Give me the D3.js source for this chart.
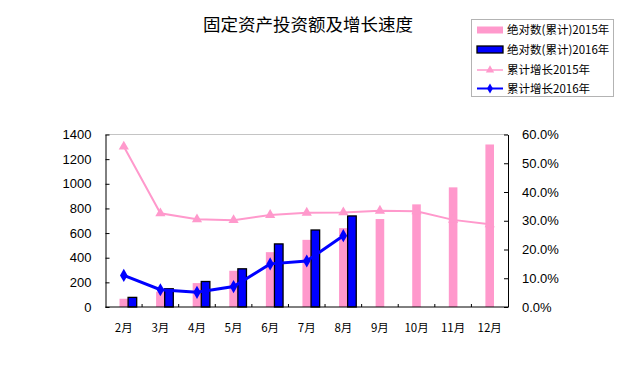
<!DOCTYPE html>
<html>
<head>
<meta charset="utf-8">
<script src="https://cdn.jsdelivr.net/npm/d3@7/dist/d3.min.js"></script>
<style>
  body { margin: 0; background: #fff; }
  svg { display: block; }
  text { font-family: "Liberation Sans", Arial, sans-serif; }
  .cjk { font-family: "Noto Sans CJK SC", sans-serif; }
</style>
</head>
<body>
<div id="chart"></div>
<script>
  var months = ['2月', '3月', '4月', '5月', '6月', '7月', '8月', '9月', '10月', '11月', '12月'];
  var abs2015 = [67, 124, 194, 294, 445, 545, 640, 714, 833, 971, 1319];
  var abs2016 = [78, 148, 207, 310, 512, 625, 739];
  var growth2015 = [55.8, 32.6, 30.5, 30.2, 32.0, 32.8, 32.9, 33.5, 33.3, 30.3, 28.8];
  var growth2016 = [11.0, 6.0, 5.1, 7.1, 15.0, 16.0, 24.8];
  var leftTicks = [0, 200, 400, 600, 800, 1000, 1200, 1400];
  var rightTicks = [0, 10, 20, 30, 40, 50, 60];
  var legendLabels = ['绝对数(累计)2015年', '绝对数(累计)2016年', '累计增长2015年', '累计增长2016年'];

  (function () {
    var width = 629, height = 382;
    var pink = '#ff99cc', blue = '#0000ff';

    var svg = d3.select('#chart').append('svg')
      .attr('width', width)
      .attr('height', height);

    var plotLeft = 105.5, plotRight = 508, plotTop = 134.5, plotBottom = 307;

    var x = d3.scaleBand().domain(months).range([plotLeft, plotRight]).paddingInner(0).paddingOuter(0);
    var yL = d3.scaleLinear().domain([0, 1400]).range([plotBottom, plotTop]);
    var yR = d3.scaleLinear().domain([0, 60]).range([plotBottom, plotTop]);
    var bw = x.bandwidth() * 0.235;

    function cx(m) { return x(m) + x.bandwidth() / 2; }

    // title
    svg.append('text')
      .attr('class', 'cjk')
      .attr('x', 308)
      .attr('y', 31)
      .attr('text-anchor', 'middle')
      .style('font-size', '17.5px')
      .style('fill', '#000')
      .text('固定资产投资额及增长速度');

    // top border of plot area, dotted
    svg.append('line')
      .attr('x1', plotLeft).attr('x2', plotRight).attr('y1', plotTop).attr('y2', plotTop)
      .attr('stroke', '#888').attr('stroke-dasharray', '1,1');

    // bars 2015
    svg.selectAll('.bar15')
      .data(abs2015)
      .enter()
      .append('rect')
      .attr('class', 'bar15')
      .attr('x', function (d, i) { return cx(months[i]) - bw / 2; })
      .attr('y', function (d) { return yL(d); })
      .attr('width', bw)
      .attr('height', function (d) { return plotBottom - yL(d); })
      .attr('fill', pink);

    // bars 2016
    svg.selectAll('.bar16')
      .data(abs2016)
      .enter()
      .append('rect')
      .attr('class', 'bar16')
      .attr('x', function (d, i) { return cx(months[i]) + bw / 2; })
      .attr('y', function (d) { return yL(d); })
      .attr('width', bw)
      .attr('height', function (d) { return plotBottom - yL(d); })
      .attr('fill', blue)
      .attr('stroke', '#000')
      .attr('stroke-width', 1.3);

    // axes
    var axisL = d3.axisLeft(yL).tickValues(leftTicks).tickSizeInner(-4).tickSizeOuter(0).tickPadding(14)
      .tickFormat(d3.format('d'));
    var gL = svg.append('g').attr('transform', 'translate(' + plotLeft + ',0)').call(axisL);

    var axisR = d3.axisRight(yR).tickValues(rightTicks).tickSizeInner(-4).tickSizeOuter(0).tickPadding(14)
      .tickFormat(function (d) { return d.toFixed(1) + '%'; });
    var gR = svg.append('g').attr('transform', 'translate(' + plotRight + ',0)').call(axisR);

    var gX = svg.append('g').attr('transform', 'translate(0,' + plotBottom + ')');
    gX.append('line').attr('x1', plotLeft).attr('x2', plotRight).attr('stroke', '#000');
    gX.selectAll('.xt')
      .data(months.slice(1))
      .enter()
      .append('line')
      .attr('x1', function (m) { return x(m); })
      .attr('x2', function (m) { return x(m); })
      .attr('y1', 0).attr('y2', -3)
      .attr('stroke', '#000');
    gX.selectAll('.xl')
      .data(months)
      .enter()
      .append('text')
      .attr('class', 'cjk')
      .attr('x', function (m) { return cx(m); })
      .attr('y', 25)
      .attr('text-anchor', 'middle')
      .style('font-size', '11.5px')
      .text(function (m) { return m; });

    [gL, gR].forEach(function (g) {
      g.select('.domain').attr('stroke', '#000');
      g.selectAll('.tick line').attr('stroke', '#000');
      g.selectAll('.tick text')
        .style('font-size', '13px')
        .style('font-family', '"Liberation Sans", Arial, sans-serif')
        .attr('fill', '#000');
    });

    // growth lines
    var lineGen = d3.line()
      .x(function (d, i) { return cx(months[i]); })
      .y(function (d) { return yR(d); });

    svg.append('path')
      .datum(growth2015)
      .attr('d', lineGen)
      .attr('fill', 'none')
      .attr('stroke', pink)
      .attr('stroke-width', 2);

    var tri = d3.symbol().type(d3.symbolTriangle).size(45);
    svg.selectAll('.m15')
      .data(growth2015)
      .enter()
      .append('path')
      .attr('transform', function (d, i) { return 'translate(' + cx(months[i]) + ',' + yR(d) + ')'; })
      .attr('d', tri)
      .attr('fill', pink);

    svg.append('path')
      .datum(growth2016)
      .attr('d', lineGen)
      .attr('fill', 'none')
      .attr('stroke', blue)
      .attr('stroke-width', 3);

    var dia = d3.symbol().type(d3.symbolDiamond).size(50);
    svg.selectAll('.m16')
      .data(growth2016)
      .enter()
      .append('path')
      .attr('transform', function (d, i) { return 'translate(' + cx(months[i]) + ',' + yR(d) + ')'; })
      .attr('d', dia)
      .attr('fill', blue);

    // legend
    var lg = svg.append('g');
    lg.append('rect')
      .attr('x', 471.5).attr('y', 19.5)
      .attr('width', 142).attr('height', 77)
      .attr('fill', '#fff')
      .attr('stroke', '#666')
      .attr('stroke-dasharray', '1,1');

    var rowsY = [30, 49.5, 70, 88.5];
    legendLabels.forEach(function (label, i) {
      var ry = rowsY[i];
      if (i === 0) {
        lg.append('rect').attr('x', 477).attr('y', ry - 3.5).attr('width', 26).attr('height', 7).attr('fill', pink);
      } else if (i === 1) {
        lg.append('rect').attr('x', 477).attr('y', ry - 3.5).attr('width', 26).attr('height', 7)
          .attr('fill', blue).attr('stroke', '#000').attr('stroke-width', 1.3);
      } else {
        var c = i === 2 ? pink : blue;
        lg.append('line').attr('x1', 477).attr('x2', 503).attr('y1', ry).attr('y2', ry)
          .attr('stroke', c).attr('stroke-width', i === 2 ? 1.5 : 2);
        lg.append('path')
          .attr('transform', 'translate(490,' + ry + ')')
          .attr('d', d3.symbol().type(i === 2 ? d3.symbolTriangle : d3.symbolDiamond).size(30)())
          .attr('fill', c);
      }
      lg.append('text')
        .attr('class', 'cjk')
        .attr('x', 507)
        .attr('y', ry + 4)
        .style('font-size', '11.5px')
        .text(label);
    });
  })();
</script>
</body>
</html>
